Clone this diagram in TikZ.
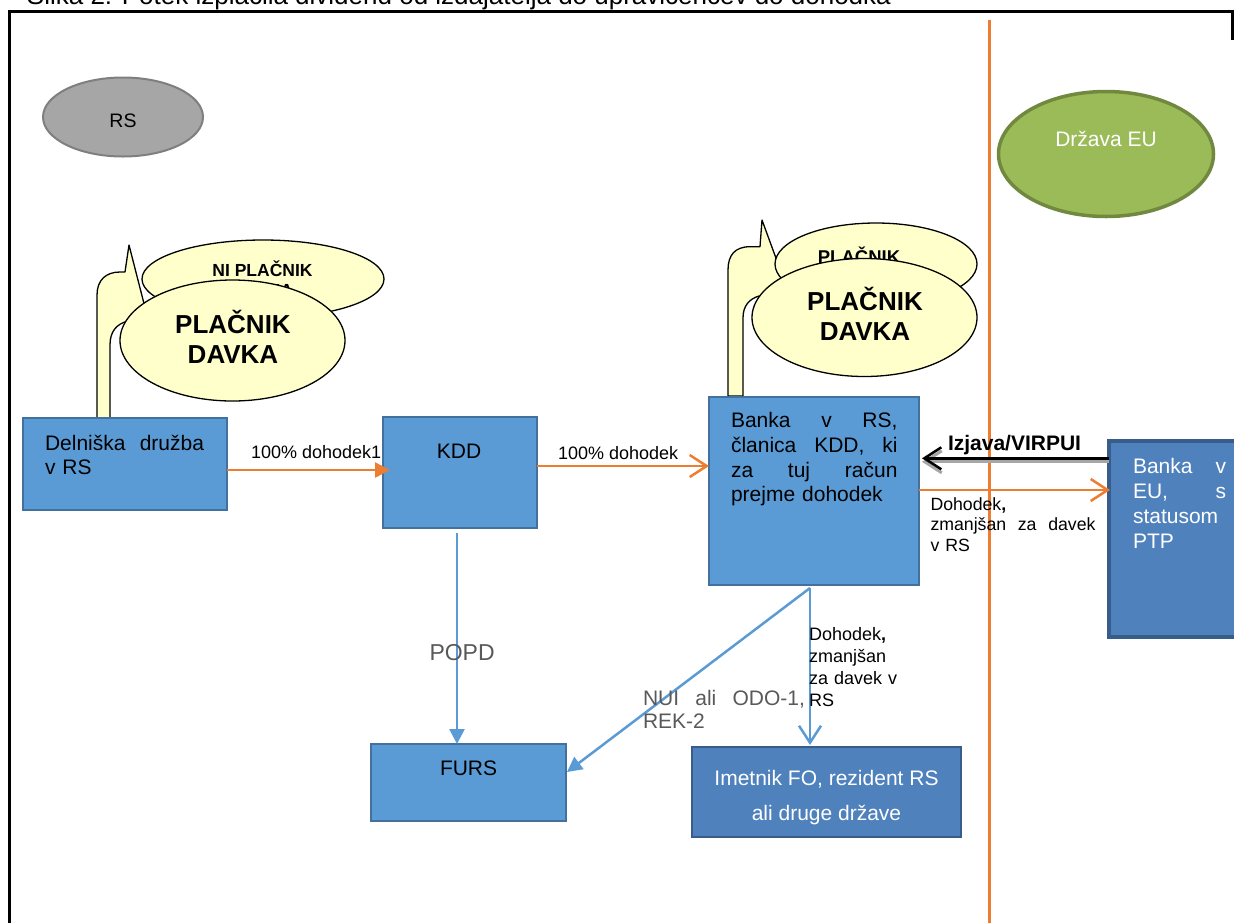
\documentclass[tikz,border=0pt]{standalone}
\usepackage{fontspec}
\setmainfont{Liberation Sans}
\usetikzlibrary{arrows.meta,shapes.geometric}
\definecolor{boxblue}{HTML}{5B9BD5}
\definecolor{boxblueb}{HTML}{41719C}
\definecolor{darkblue}{HTML}{4F81BD}
\definecolor{darkblueb}{HTML}{385D8A}
\definecolor{orng}{HTML}{ED7D31}
\definecolor{yelfill}{HTML}{FFFFCC}
\definecolor{grayfill}{HTML}{A6A6A6}
\definecolor{grayline}{HTML}{7F7F7F}
\definecolor{grn}{HTML}{9BBB59}
\definecolor{grnb}{HTML}{71893F}
\definecolor{txtgray}{HTML}{595959}
\definecolor{shadowgray}{HTML}{A6A6A6}
\newcommand\fsz[2]{\fontsize{#1pt}{#2pt}\selectfont}
\newcommand\sr[1]{\rule{0pt}{#1pt}}
\begin{document}
\begin{tikzpicture}[x=1pt,y=-1pt,
  every node/.style={inner sep=0pt,outer sep=0pt},
  lbox/.style={rectangle,draw=boxblueb,fill=boxblue,line width=2pt},
  dbox/.style={rectangle,draw=darkblueb,fill=darkblue},
  yelell/.style={ellipse,draw=black,fill=yelfill,line width=1.3pt},
  tail/.style={draw=black,fill=yelfill,line width=1.3pt,line join=round},
  oline/.style={draw=orng,line width=2.5pt},
  bline/.style={draw=boxblue,line width=2.5pt},
  fillhead/.style={-{Triangle[length=15pt,width=15pt]}},
  openhead/.style={-{Straight Barb[length=17pt,width=22pt]}},
  ltxt/.style={anchor=north west,align=left},
]
\useasboundingbox (0,0) rectangle (1234,922);
\clip (0,0) rectangle (1234,922);

% title (cut off at top)
\node[anchor=base west,font=\fsz{26}{30}] (title) at (27,4.5) {Slika 2: Potek izplačila dividend od izdajatelja do upravičencev do dohodka};

% frame
\draw[line width=3pt] (9.5,930) -- (9.5,11.7) -- (1232.5,11.7) -- (1232.5,40);

% border line RS / EU
\coordinate (bt) at (989,20);
\coordinate (bb) at (989,925);
\draw[orng,line width=3pt] (bt) -- (bb);

% country ellipses
\node[ellipse,draw=grayline,fill=grayfill,line width=2pt,minimum width=160,minimum height=79] (rs) at (123,117) {};
\node[anchor=base,font=\fsz{19.5}{22}] (rstxt) at (123,127) {RS};
\node[ellipse,draw=grnb,fill=grn,line width=3.5pt,minimum width=215,minimum height=125] (eu) at (1106,154) {};
\node[anchor=base,font=\fsz{21}{24},text=white] (eutxt) at (1106,146.7) {Država EU};

% left callout group
\draw[tail] (97,418) -- (97,295) .. controls (97,280) and (106,272) .. (120,272) -- (125,272) -- (129,245) -- (150,327) -- (128,321) .. controls (116,324) and (110,332) .. (110,345) -- (110,418) -- cycle;
\node[yelell,minimum width=242,minimum height=78] (niell) at (263,279) {};
\node[anchor=north,align=center,font=\fsz{17.5}{20}\bfseries] (nitxt) at (262.5,259.7) {\sr{17}NI PLAČNIK\\DAVKA};
\node[yelell,minimum width=225,minimum height=121] (pl1) at (232.5,340.5) {};
\node[anchor=north,align=center,font=\fsz{26}{30}\bfseries] (pl1txt) at (233,308.3) {\sr{25}PLAČNIK\\DAVKA};

% right callout group
\draw[tail] (728,396) -- (728,270) .. controls (728,255) and (735,246.7) .. (750,246.7) -- (760,246.7) -- (762,220) -- (795,310) -- (759,296) .. controls (749,299) and (743,306) .. (743,318) -- (743,396) -- cycle;
\node[yelell,minimum width=202,minimum height=82] (pl2b) at (876,264) {};
\node[anchor=base,font=\fsz{18.5}{21}\bfseries] (pl2btxt) at (859,263) {PLAČNIK};
\node[yelell,minimum width=225,minimum height=118] (pl2) at (864.5,317.5) {};
\node[anchor=north,align=center,font=\fsz{26}{29.3}\bfseries] (pl2txt) at (865,285.7) {\sr{25}PLAČNIK\\DAVKA};

% boxes
\node[lbox,minimum width=204,minimum height=92] (del) at (125,464) {};
\node[ltxt,text width=159,font=\fsz{21}{24}] (deltxt) at (45,430) {\sr{20}Delniška\hfill družba\\v RS};
\node[lbox,minimum width=154,minimum height=111] (kdd) at (460,472.5) {};
\node[anchor=base,font=\fsz{21}{24}] (kddtxt) at (459,458.3) {KDD};
\node[lbox,minimum width=210,minimum height=188] (bankrs) at (814,491) {};
\node[ltxt,text width=166.5,font=\fsz{21}{24.7}] (bankrstxt) at (731,407.7) {\sr{20}Banka\hfill v\hfill RS,\\članica\hfill KDD,\hfill ki\\za\hfill tuj\hfill račun\\prejme dohodek};
\node[dbox,line width=4.5pt,minimum width=131,minimum height=196] (bankeu) at (1174.5,539) {};
\node[ltxt,text width=93,font=\fsz{21}{25},text=white] (bankeutxt) at (1133,453.3) {\sr{20}Banka\hfill v\\EU,\hfill s\\statusom\\PTP};
\node[lbox,minimum width=195,minimum height=77] (furs) at (468.5,782.5) {};
\node[anchor=base west,font=\fsz{21}{24}] (furstxt) at (440,775) {FURS};
\node[dbox,line width=1.5pt,minimum width=269,minimum height=90] (imet) at (826.5,792) {};
\node[anchor=north,align=center,font=\fsz{21}{35},text=white] (imettxt) at (826.5,765) {\sr{20}Imetnik FO, rezident RS\\ali druge države};

% connectors
\draw[oline,fillhead] ([yshift=-6pt]del.east) -- ([xshift=7pt,yshift=2.5pt]kdd.west);
\node[anchor=base west,font=\fsz{18}{21}] (l1) at (251,458.3) {100\% dohodek1};
\draw[oline,openhead] ([yshift=6.5pt]kdd.east) -- ([yshift=25pt]bankrs.west);
\node[anchor=base west,font=\fsz{18}{21}] (l2) at (558,459.3) {100\% dohodek};

\draw[shadowgray,line width=3pt,openhead] ([yshift=77.2pt]bankeu.west) -- ([xshift=3pt,yshift=29.2pt]bankrs.east);
\draw[black,line width=2.5pt,openhead] ([yshift=80.7pt]bankeu.west) -- ([xshift=3pt,yshift=32.7pt]bankrs.east);
\node[anchor=base west,font=\fsz{21}{24}\bfseries] (l3) at (948,450.7) {Izjava/VIRPUI};

\draw[oline,openhead] ([yshift=1pt]bankrs.east) -- ([xshift=1pt,yshift=49pt]bankeu.west);
\node[ltxt,text width=165,font=\fsz{17.7}{20.8}] (l4) at (930.5,493) {\sr{17}Dohodek\textbf{,}\\zmanjšan\hfill za\hfill davek\\v RS};

\draw[bline,fillhead] ([xshift=-3pt,yshift=-5pt]kdd.south) -- ([xshift=-11.5pt]furs.north);
\node[anchor=base west,font=\fsz{23}{26},text=txtgray] (l5) at (429.5,660) {POPD};

\draw[bline,fillhead] ([xshift=-4pt,yshift=-3pt]bankrs.south) -- ([xshift=1pt,yshift=10.5pt]furs.east);
\node[ltxt,text width=162,font=\fsz{21}{23.3},text=txtgray] (l6) at (643,685) {\sr{20}NUI\hfill ali\hfill ODO-1,\\REK-2};

\draw[bline,openhead] ([xshift=-4pt,yshift=-3pt]bankrs.south) -- ([xshift=-16.5pt,yshift=2pt]imet.north);
\node[ltxt,text width=100,font=\fsz{18}{22}] (l7) at (809,623) {\sr{17}Dohodek\textbf{,}\\zmanjšan\\za davek v\\RS};
\end{tikzpicture}
\end{document}
